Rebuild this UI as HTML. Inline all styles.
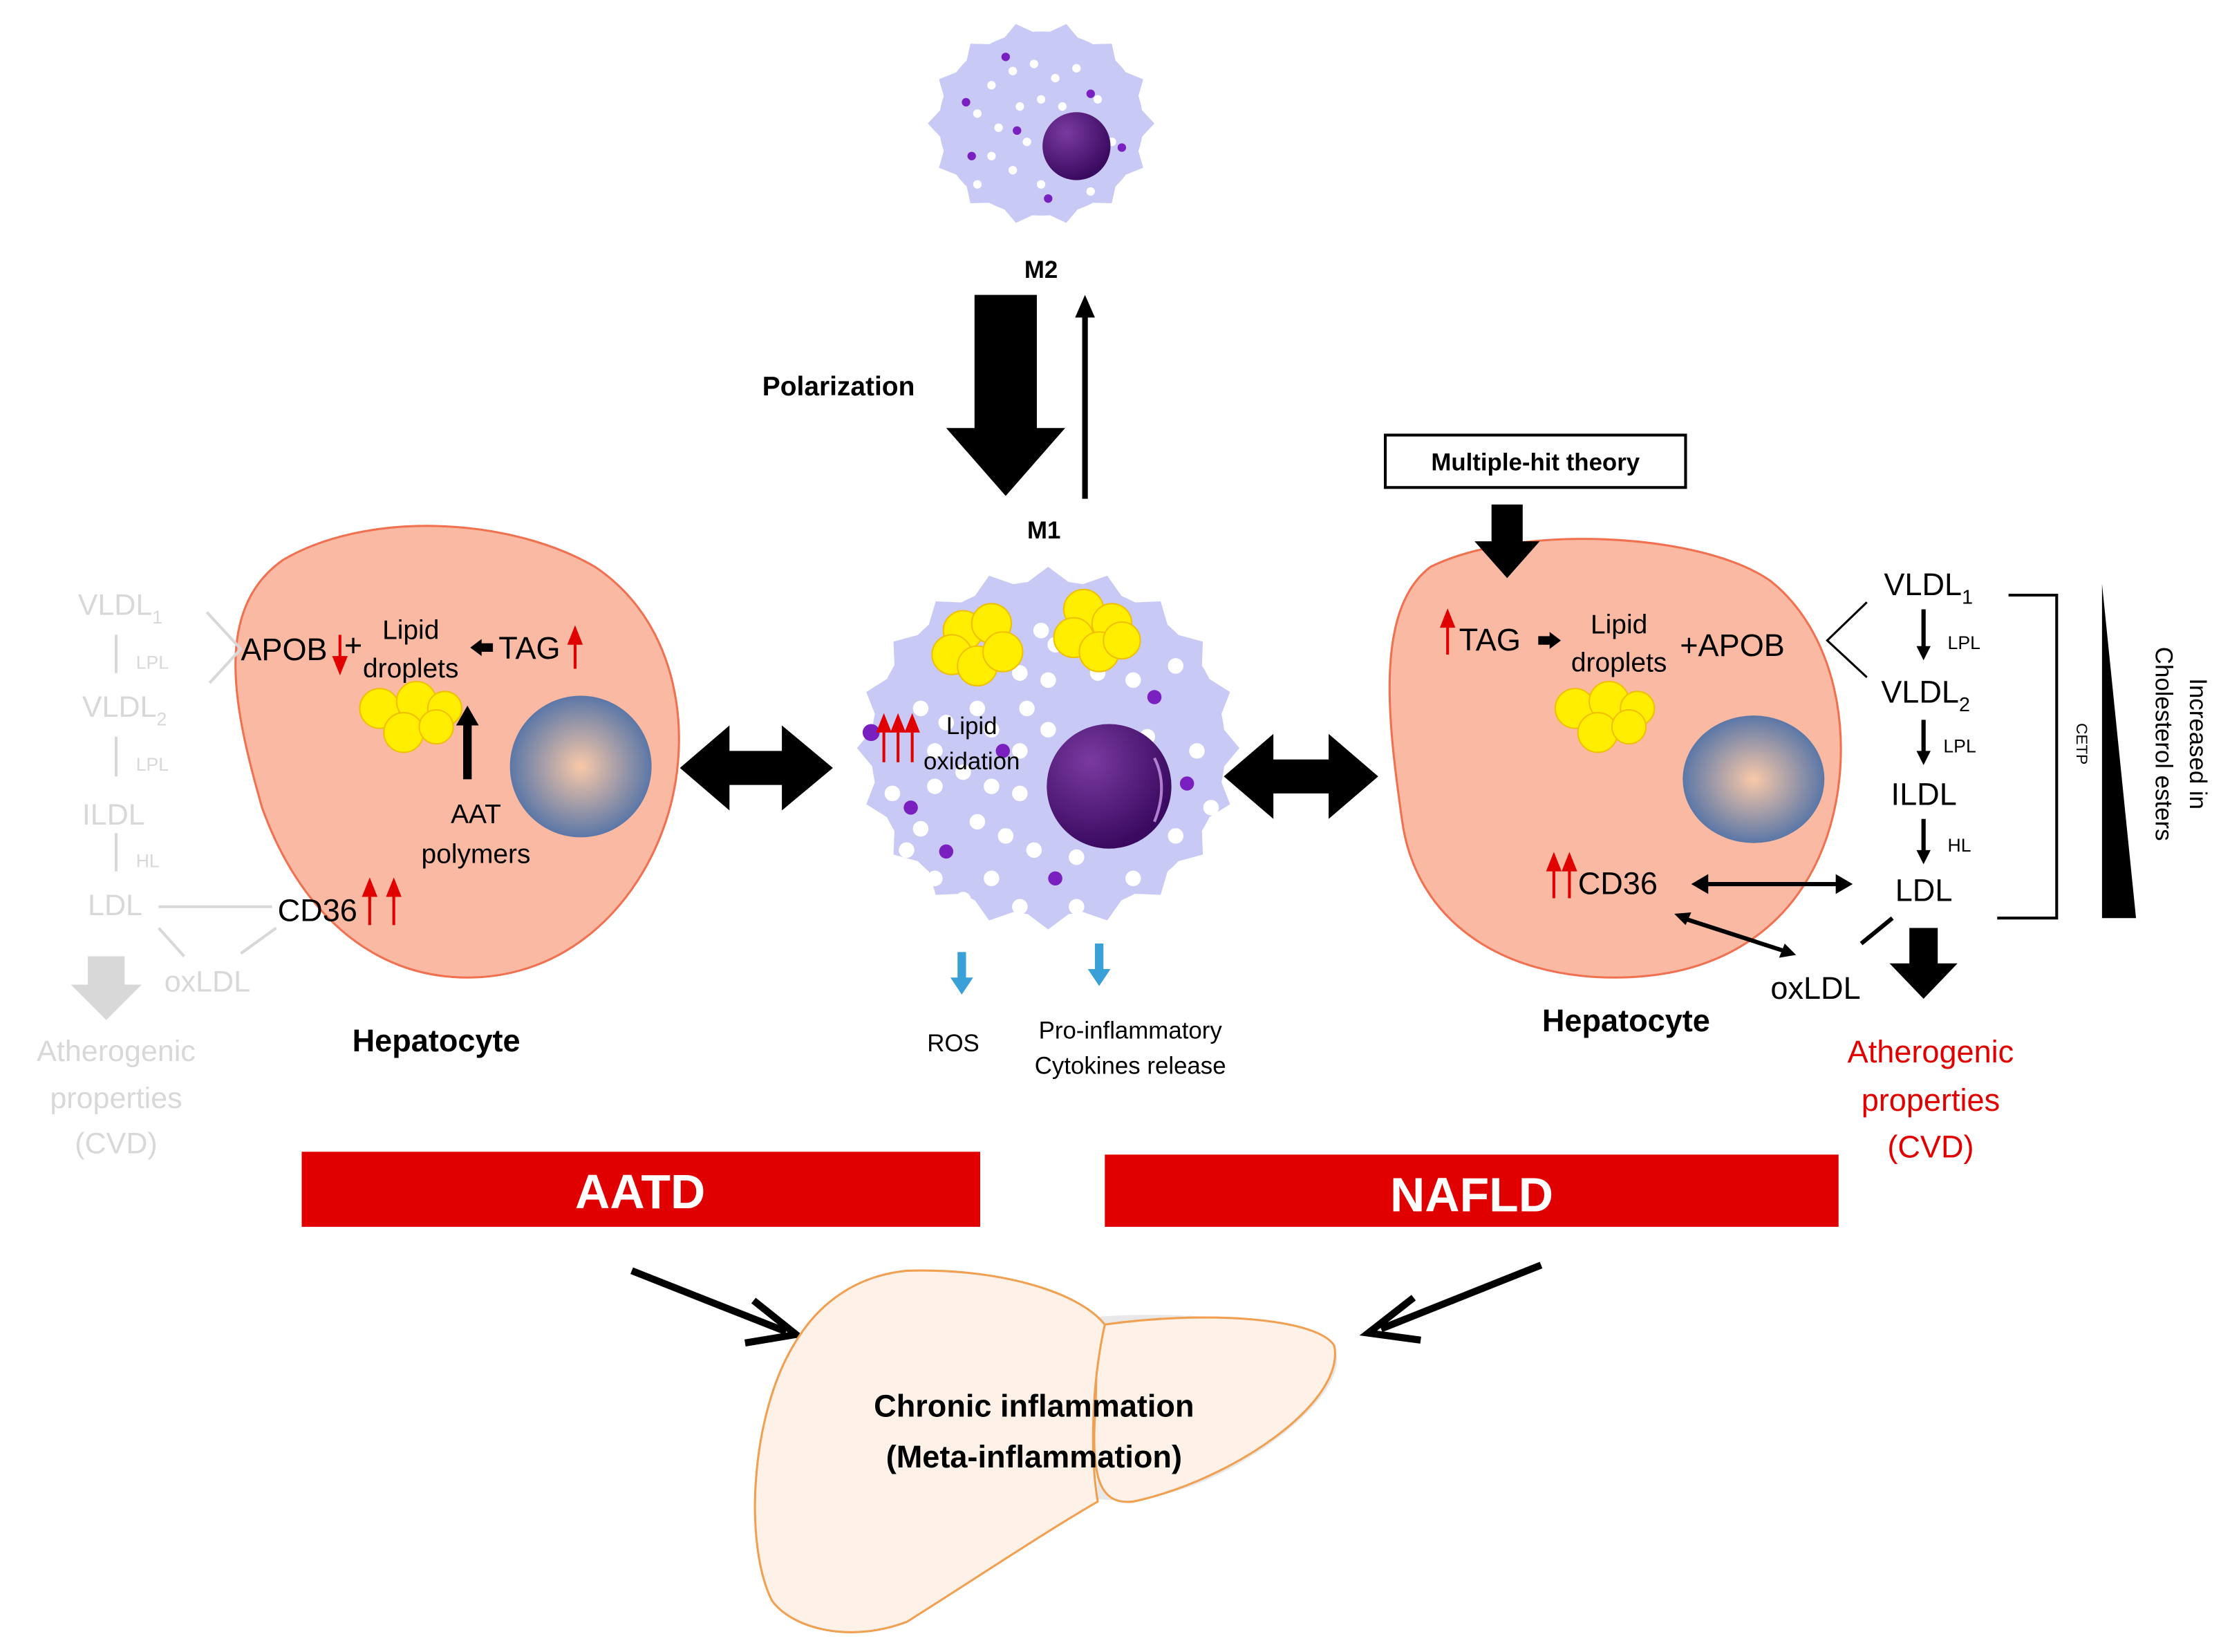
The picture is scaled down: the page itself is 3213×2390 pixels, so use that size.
<!DOCTYPE html>
<html><head><meta charset="utf-8"><style>
html,body{margin:0;padding:0;background:#fff}
svg{display:block}
text{font-family:"Liberation Sans",sans-serif}
</style></head><body>
<svg id="s" width="3213" height="2390" viewBox="0 0 1568 1166" xmlns="http://www.w3.org/2000/svg">
<defs>
<radialGradient id="nuc" cx="0.5" cy="0.5" r="0.5"><stop offset="0" stop-color="#f9c9a8"/><stop offset="1" stop-color="#5b77a7"/></radialGradient>
<radialGradient id="pn" cx="0.35" cy="0.3" r="0.7"><stop offset="0" stop-color="#7a3aa0"/><stop offset="1" stop-color="#3a0a60"/></radialGradient>
</defs>
<ellipse cx="735" cy="87" rx="72" ry="65" fill="#c9c9f5"/>
<ellipse cx="740" cy="528" rx="125" ry="118" fill="#c9c9f5"/>
<g id="cells"></g>
<g fill="#fff">
<circle cx="700" cy="60" r="3"/><circle cx="715" cy="50" r="3"/><circle cx="730" cy="45" r="3"/><circle cx="745" cy="55" r="3"/><circle cx="760" cy="48" r="3"/><circle cx="690" cy="80" r="3"/><circle cx="705" cy="90" r="3"/><circle cx="720" cy="75" r="3"/><circle cx="735" cy="70" r="3"/><circle cx="750" cy="75" r="3"/><circle cx="775" cy="70" r="3"/><circle cx="700" cy="110" r="3"/><circle cx="715" cy="120" r="3"/><circle cx="725" cy="100" r="3"/><circle cx="690" cy="130" r="3"/><circle cx="735" cy="130" r="3"/><circle cx="770" cy="135" r="3"/><circle cx="785" cy="100" r="3"/>
</g>
<g fill="#7a1fc0"><circle cx="710" cy="40" r="3"/><circle cx="682" cy="72" r="3"/><circle cx="718" cy="92" r="3"/><circle cx="740" cy="140" r="3"/><circle cx="792" cy="104" r="3"/><circle cx="686" cy="110" r="3"/><circle cx="770" cy="66" r="3"/></g>
<circle cx="760" cy="103" r="24" fill="url(#pn)"/>
<text x="735" y="196" font-size="17" font-weight="bold" text-anchor="middle">M2</text>
<polygon points="688,208 732,208 732,302 752,302 710,350 668,302 688,302" fill="#000"/>
<line x1="766" y1="352" x2="766" y2="222" stroke="#000" stroke-width="4"/>
<polygon points="759,224 766,208 773,224" fill="#000"/>
<text x="592" y="279" font-size="19" font-weight="bold" text-anchor="middle">Polarization</text>
<text x="737" y="380" font-size="17" font-weight="bold" text-anchor="middle">M1</text>
<g fill="#fff" id="m1dots"></g>
<g fill="#ffee00" stroke="#f0c000" stroke-width="1">
<circle cx="680" cy="445" r="14"/><circle cx="700" cy="440" r="14"/><circle cx="672" cy="462" r="14"/><circle cx="690" cy="470" r="14"/><circle cx="708" cy="460" r="14"/>
<circle cx="765" cy="430" r="14"/><circle cx="785" cy="440" r="14"/><circle cx="758" cy="450" r="14"/><circle cx="776" cy="460" r="14"/><circle cx="792" cy="452" r="13"/>
</g>
<g fill="#7a1fc0"><circle cx="615" cy="517" r="6"/><circle cx="708" cy="530" r="5"/><circle cx="643" cy="570" r="5"/><circle cx="668" cy="601" r="5"/><circle cx="745" cy="620" r="5"/><circle cx="815" cy="492" r="5"/><circle cx="838" cy="553" r="5"/><circle cx="760" cy="528" r="5"/></g>
<circle cx="783" cy="555" r="44" fill="url(#pn)"/>
<path d="M815 535 Q825 555 815 580" stroke="#b080d0" stroke-width="2" fill="none"/>
<g stroke="#e00000" stroke-width="2" fill="#e00000">
<line x1="624" y1="538" x2="624" y2="514"/><polygon points="620,516 624,506 628,516"/>
<line x1="634" y1="538" x2="634" y2="514"/><polygon points="630,516 634,506 638,516"/>
<line x1="644" y1="538" x2="644" y2="514"/><polygon points="640,516 644,506 648,516"/>
</g>
<text x="686" y="518" font-size="17" text-anchor="middle">Lipid</text>
<text x="686" y="543" font-size="17" text-anchor="middle">oxidation</text>
<g fill="#3aa0d8"><rect x="676" y="672" width="6" height="20"/><polygon points="671,690 687,690 679,702"/><rect x="773" y="666" width="6" height="20"/><polygon points="768,684 784,684 776,696"/></g>
<text x="673" y="742" font-size="17" text-anchor="middle">ROS</text>
<text x="798" y="733" font-size="17" text-anchor="middle">Pro-inflammatory</text>
<text x="798" y="758" font-size="17" text-anchor="middle">Cytokines release</text>
<polygon points="480,542 515,512 515,530 552,530 552,512 588,542 552,572 552,554 515,554 515,572" fill="#000"/>
<polygon points="864,548 899,518 899,536 938,536 938,518 973,548 938,578 938,560 899,560 899,578" fill="#000"/>
<path d="M200 395 C260 360 360 365 420 400 C480 440 490 520 470 580 C450 640 400 690 330 690 C260 690 210 640 185 570 C165 500 150 430 200 395Z" fill="#f9b9a3" stroke="#f07050" stroke-width="1.5"/>
<g fill="#ffee00" stroke="#f0c000"><circle cx="268" cy="500" r="14"/><circle cx="294" cy="495" r="14"/><circle cx="314" cy="500" r="12"/><circle cx="285" cy="517" r="14"/><circle cx="308" cy="513" r="12"/></g>
<ellipse cx="410" cy="541" rx="50" ry="50" fill="url(#nuc)"/>
<text x="170" y="466" font-size="22">APOB</text>
<g stroke="#e00000" stroke-width="2" fill="#e00000"><line x1="240" y1="448" x2="240" y2="466"/><polygon points="236,464 240,474 244,464"/></g>
<text x="243" y="463" font-size="22">+</text>
<text x="290" y="451" font-size="19" text-anchor="middle">Lipid</text>
<text x="290" y="478" font-size="19" text-anchor="middle">droplets</text>
<polygon points="332,457 340,451 340,454 348,454 348,460 340,460 340,463" fill="#000"/>
<text x="352" y="465" font-size="22">TAG</text>
<g stroke="#e00000" stroke-width="2" fill="#e00000"><line x1="406" y1="472" x2="406" y2="452"/><polygon points="402,454 406,444 410,454"/></g>
<rect x="327" y="510" width="6" height="40" fill="#000"/><polygon points="322,512 330,498 338,512" fill="#000"/>
<text x="336" y="581" font-size="19" text-anchor="middle">AAT</text>
<text x="336" y="609" font-size="19" text-anchor="middle">polymers</text>
<text x="196" y="650" font-size="22">CD36</text>
<g stroke="#e00000" stroke-width="2" fill="#e00000"><line x1="261" y1="653" x2="261" y2="630"/><polygon points="257,632 261,622 265,632"/><line x1="278" y1="653" x2="278" y2="630"/><polygon points="274,632 278,622 282,632"/></g>
<text x="308" y="742" font-size="22" font-weight="bold" text-anchor="middle">Hepatocyte</text>
<g fill="#d8d8d8" font-size="21">
<text x="55" y="434">VLDL<tspan font-size="13" dy="6">1</tspan></text>
<text x="58" y="506">VLDL<tspan font-size="13" dy="6">2</tspan></text>
<text x="58" y="582">ILDL</text>
<text x="62" y="646">LDL</text>
<text x="116" y="700">oxLDL</text>
<text x="82" y="749" text-anchor="middle">Atherogenic</text>
<text x="82" y="782" text-anchor="middle">properties</text>
<text x="82" y="814" text-anchor="middle">(CVD)</text>
<g font-size="13"><text x="96" y="472">LPL</text><text x="96" y="544">LPL</text><text x="96" y="612">HL</text></g>
</g>
<g stroke="#d8d8d8" stroke-width="2" fill="none">
<line x1="82" y1="448" x2="82" y2="475"/><line x1="82" y1="520" x2="82" y2="548"/><line x1="82" y1="588" x2="82" y2="615"/>
<polyline points="146,432 170,458 148,482"/>
<line x1="112" y1="640" x2="192" y2="640"/><line x1="112" y1="655" x2="130" y2="675"/><line x1="195" y1="655" x2="170" y2="673"/>
</g>
<polygon points="62,675 88,675 88,695 100,695 75,720 50,695 62,695" fill="#d8d8d8"/>
<path d="M1010 400 C1070 370 1200 375 1250 410 C1300 450 1310 530 1290 590 C1270 650 1220 690 1140 690 C1060 690 1000 650 990 580 C980 510 970 430 1010 400Z" fill="#f9b9a3" stroke="#f07050" stroke-width="1.5"/>
<rect x="978" y="307" width="212" height="37" fill="#fff" stroke="#000" stroke-width="2"/>
<text x="1084" y="332" font-size="17" font-weight="bold" text-anchor="middle">Multiple-hit theory</text>
<polygon points="1053,356 1075,356 1075,382 1087,382 1064,408 1041,382 1053,382" fill="#000"/>
<g fill="#ffee00" stroke="#f0c000"><circle cx="1112" cy="500" r="14"/><circle cx="1136" cy="495" r="14"/><circle cx="1156" cy="500" r="12"/><circle cx="1128" cy="517" r="14"/><circle cx="1150" cy="513" r="12"/></g>
<ellipse cx="1238" cy="550" rx="50" ry="45" fill="url(#nuc)"/>
<g stroke="#e00000" stroke-width="2" fill="#e00000"><line x1="1022" y1="462" x2="1022" y2="440"/><polygon points="1018,442 1022,432 1026,442"/></g>
<text x="1030" y="459" font-size="22">TAG</text>
<polygon points="1102,452 1094,446 1094,449 1086,449 1086,455 1094,455 1094,458" fill="#000"/>
<text x="1143" y="447" font-size="19" text-anchor="middle">Lipid</text>
<text x="1143" y="474" font-size="19" text-anchor="middle">droplets</text>
<text x="1186" y="463" font-size="22">+APOB</text>
<polyline points="1318,425 1290,452 1318,478" stroke="#000" stroke-width="1.5" fill="none"/>
<g font-size="22">
<text x="1330" y="420">VLDL<tspan font-size="14" dy="6">1</tspan></text>
<text x="1328" y="496">VLDL<tspan font-size="14" dy="6">2</tspan></text>
<text x="1335" y="568">ILDL</text>
<text x="1338" y="636">LDL</text>
<text x="1250" y="705">oxLDL</text>
<text x="1114" y="631">CD36</text>
</g>
<g font-size="13"><text x="1375" y="458">LPL</text><text x="1372" y="531">LPL</text><text x="1375" y="601">HL</text></g>
<g stroke="#000" stroke-width="3"><line x1="1358" y1="430" x2="1358" y2="458"/><line x1="1358" y1="508" x2="1358" y2="532"/><line x1="1358" y1="578" x2="1358" y2="602"/></g>
<g fill="#000"><polygon points="1353,456 1363,456 1358,466"/><polygon points="1353,530 1363,530 1358,540"/><polygon points="1353,600 1363,600 1358,610"/></g>
<g stroke="#e00000" stroke-width="2" fill="#e00000"><line x1="1097" y1="634" x2="1097" y2="612"/><polygon points="1093,614 1097,604 1101,614"/><line x1="1108" y1="634" x2="1108" y2="612"/><polygon points="1104,614 1108,604 1112,614"/></g>
<line x1="1200" y1="624" x2="1300" y2="624" stroke="#000" stroke-width="3"/>
<polygon points="1194,624 1206,617 1206,631" fill="#000"/><polygon points="1308,624 1296,617 1296,631" fill="#000"/>
<line x1="1188" y1="648" x2="1262" y2="672" stroke="#000" stroke-width="3"/>
<polygon points="1182,645 1194,644 1190,653" fill="#000"/><polygon points="1268,674 1256,676 1260,666" fill="#000"/>
<line x1="1336" y1="648" x2="1314" y2="666" stroke="#000" stroke-width="3"/>
<polygon points="1348,655 1368,655 1368,680 1382,680 1358,705 1334,680 1348,680" fill="#000"/>
<polyline points="1418,420 1452,420 1452,648 1410,648" stroke="#000" stroke-width="2" fill="none"/>
<text x="1466" y="525" font-size="11" transform="rotate(90 1466 525)" text-anchor="middle">CETP</text>
<polygon points="1484,412 1508,648 1484,648" fill="#000"/>
<text x="1546" y="525" font-size="17" transform="rotate(90 1546 525)" text-anchor="middle">Increased in</text>
<text x="1522" y="525" font-size="17" transform="rotate(90 1522 525)" text-anchor="middle">Cholesterol esters</text>
<text x="1148" y="728" font-size="22" font-weight="bold" text-anchor="middle">Hepatocyte</text>
<g fill="#e00000" font-size="22" text-anchor="middle"><text x="1363" y="750">Atherogenic</text><text x="1363" y="784">properties</text><text x="1363" y="817">(CVD)</text></g>
<rect x="213" y="813" width="479" height="53" fill="#e00000"/>
<text x="452" y="853" font-size="34" font-weight="bold" fill="#fff" text-anchor="middle">AATD</text>
<rect x="780" y="815" width="518" height="51" fill="#e00000"/>
<text x="1039" y="855" font-size="34" font-weight="bold" fill="#fff" text-anchor="middle">NAFLD</text>
<line x1="446" y1="897" x2="555" y2="940" stroke="#000" stroke-width="5"/>
<polyline points="532,918 562,942 526,948" stroke="#000" stroke-width="5" fill="none"/>
<line x1="1088" y1="893" x2="975" y2="938" stroke="#000" stroke-width="5"/>
<polyline points="998,916 966,941 1003,946" stroke="#000" stroke-width="5" fill="none"/>
<path d="M770 930 C820 925 900 930 935 945 C960 960 930 1000 880 1030 C840 1055 800 1062 775 1058 Z" fill="#e8e8e8"/>
<path d="M780 935 C850 925 930 930 942 950 C950 990 870 1045 800 1060 C780 1062 770 1050 773 1000 C775 970 772 950 780 935Z" fill="#fdf1e8" stroke="#f0a050" stroke-width="1.5"/>
<path d="M640 897 C700 895 760 910 780 935 C770 980 770 1030 775 1060 C740 1080 680 1120 640 1145 C600 1160 560 1150 545 1130 C525 1090 530 1000 560 950 C580 915 610 900 640 897Z" fill="#fdf1e8" stroke="#f0a050" stroke-width="1.5"/>
<text x="730" y="1000" font-size="22" font-weight="bold" text-anchor="middle">Chronic inflammation</text>
<text x="730" y="1036" font-size="22" font-weight="bold" text-anchor="middle">(Meta-inflammation)</text>
</svg>
<script>
(function(){
var ns="http://www.w3.org/2000/svg",g=document.getElementById("cells");
function star(cx,cy,rx,ry,n,d){var p=[];for(var i=0;i<2*n;i++){var a=Math.PI*i/n,r=i%2?1-d:1;p.push((cx+rx*r*Math.cos(a)).toFixed(1)+","+(cy+ry*r*Math.sin(a)).toFixed(1));}
var e=document.createElementNS(ns,"polygon");e.setAttribute("points",p.join(" "));e.setAttribute("fill","#c9c9f5");g.appendChild(e);}
star(735,87,80,72,14,0.14);star(740,528,135,128,20,0.1);
var m=document.getElementById("m1dots");
var pts=[[650,500],[668,510],[660,530],[680,545],[700,555],[720,560],[660,555],[640,600],[690,580],[710,590],[730,600],[700,620],[660,620],[680,635],[720,640],[760,640],[800,620],[830,590],[845,530],[830,470],[740,480],[725,500],[740,515],[720,530],[690,500],[700,515],[745,455],[735,445],[800,480],[810,520],[650,585],[760,605],[720,475],[855,570],[630,560],[775,475]];
pts.forEach(function(q){var c=document.createElementNS(ns,"circle");c.setAttribute("cx",q[0]);c.setAttribute("cy",q[1]);c.setAttribute("r",5.5);m.appendChild(c);});
})();
</script>
</body></html>
